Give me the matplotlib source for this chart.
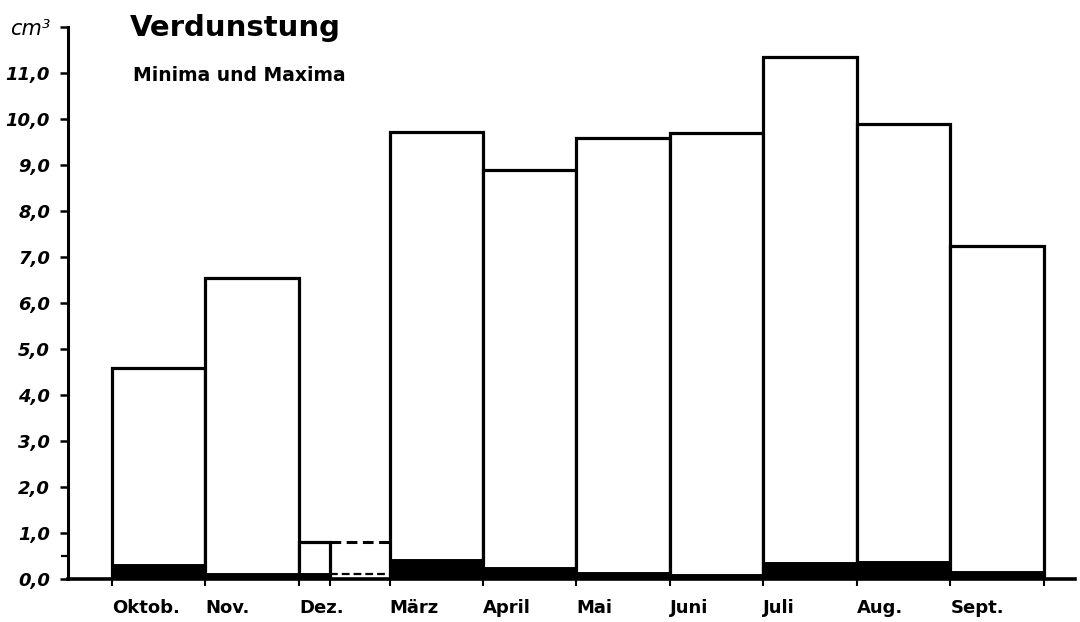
import numpy as np
import matplotlib
matplotlib.use('Agg')
import matplotlib.pyplot as plt

# Monatswerte der Verdunstung (cm³)
monate = ['Oktob.', 'Nov.', 'Dez.', 'März', 'April', 'Mai', 'Juni', 'Juli', 'Aug.', 'Sept.']
maxima = [4.6, 6.55, 0.8, 9.72, 8.9, 9.6, 9.7, 11.35, 9.9, 7.24]
minima = [0.3, 0.12, 0.12, 0.42, 0.25, 0.13, 0.09, 0.35, 0.37, 0.15]
y_werte = [0, 1, 2, 3, 4, 5, 6, 7, 8, 9, 10, 11, 12]
y_labels = ['0,0', '1,0', '2,0', '3,0', '4,0', '5,0', '6,0', '7,0', '8,0', '9,0', '10,0', '11,0', 'cm³']

lw = 2.3
dez_breite = 0.33

links = np.arange(len(monate), dtype=float)
links[3:] -= 0.03
breiten = np.ones(len(monate))
breiten[2] = dez_breite
breiten[1] = links[2] - links[1]

fig = plt.figure(figsize=(10.8, 6.22), dpi=100)
ax = fig.add_axes([0.063, 0.069, 0.932, 0.887])

ax.bar(links, maxima, width=breiten, align='edge', facecolor='white',
       edgecolor='black', linewidth=lw, zorder=2)
ax.bar(links, minima, width=breiten, align='edge', facecolor='black',
       edgecolor='black', linewidth=lw * 0.6, zorder=3)

# Lücke Januar/Februar gestrichelt
ende_dez = links[2] + dez_breite
ax.plot([ende_dez, links[3]], [maxima[2], maxima[2]], color='black', lw=2.2,
        ls=(0, (3.5, 1.8)), zorder=2)
ax.plot([ende_dez, links[3]], [minima[2], minima[2]], color='black', lw=1.6,
        ls=(0, (3.5, 1.8)), zorder=2)

ax.set_xlim(-0.47, 10.3)
ax.set_ylim(0, 12)

for s in ['top', 'right']:
    ax.spines[s].set_visible(False)
ax.spines['left'].set_linewidth(2.2)
ax.spines['bottom'].set_linewidth(2.6)

ax.set_yticks(y_werte)
ax.set_yticklabels(y_labels)
ax.set_yticks([0.5], minor=True)
ax.tick_params(axis='y', which='major', direction='out', length=6, width=1.8, pad=7)
ax.tick_params(axis='y', which='minor', direction='out', length=5, width=1.6)
for i, t in enumerate(ax.get_yticklabels()):
    t.set_fontstyle('italic')
    if i == len(y_labels) - 1:
        t.set_fontsize(15)
    else:
        t.set_fontweight('bold')
        t.set_fontsize(13)

kanten = sorted(list(links) + [ende_dez, links[-1] + 1])
kanten_labels = []
for k in kanten:
    if k in links:
        kanten_labels.append(monate[int(np.where(links == k)[0][0])])
    else:
        kanten_labels.append('')
ax.set_xticks(kanten)
ax.set_xticklabels(kanten_labels, ha='left', fontsize=13, fontweight='bold')
ax.tick_params(axis='x', direction='out', length=5, width=1.5, pad=9)

fig.text(130 / 1080, 1 - 36 / 622, 'Verdunstung', fontsize=21, fontweight='bold',
         va='baseline', ha='left')
fig.text(133 / 1080, 1 - 81 / 622, 'Minima und Maxima', fontsize=13.5,
         fontweight='bold', va='baseline', ha='left')

fig.savefig('out.png', dpi=100)
